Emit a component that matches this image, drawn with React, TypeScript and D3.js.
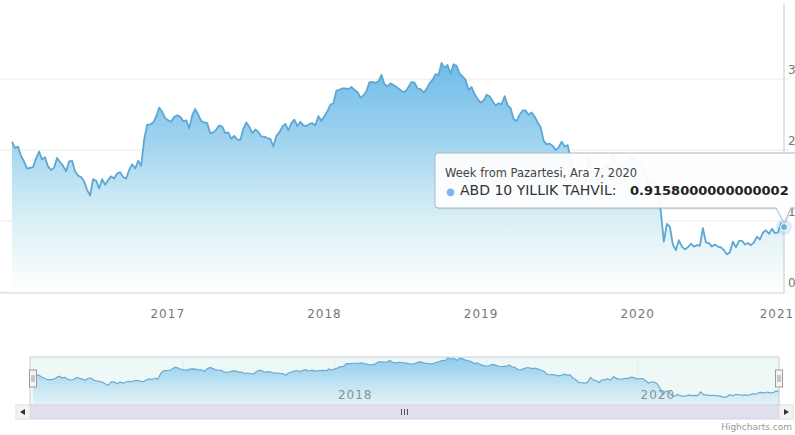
import React from "react"
import * as d3 from "d3"

// weekly closes, ABD 10 yıllık tahvil faizi (week starting Monday)
const FIRST_WEEK = "2016-01-04"

const y2016 = [
    2.12, 2.03, 2.05, 1.92, 1.84, 1.74, 1.75, 1.76, 1.88, 1.98, 1.87, 1.9, 1.77,
    1.72, 1.75, 1.89, 1.83, 1.78, 1.7, 1.84, 1.85, 1.7, 1.64, 1.62, 1.56, 1.44,
    1.36, 1.59, 1.57, 1.46, 1.59, 1.51, 1.58, 1.63, 1.6, 1.67, 1.69, 1.62, 1.6,
    1.72, 1.8, 1.74, 1.85, 1.78, 2.15, 2.36, 2.36, 2.39, 2.47, 2.6, 2.54, 2.45,
]
const y2017 = [
    2.42, 2.4, 2.47, 2.49, 2.47, 2.41, 2.42, 2.31, 2.49, 2.58, 2.5, 2.41, 2.39,
    2.38, 2.24, 2.25, 2.29, 2.35, 2.33, 2.24, 2.25, 2.16, 2.2, 2.15, 2.14, 2.3,
    2.39, 2.33, 2.24, 2.29, 2.26, 2.19, 2.19, 2.17, 2.16, 2.05, 2.2, 2.25, 2.33,
    2.37, 2.28, 2.38, 2.43, 2.34, 2.4, 2.35, 2.34, 2.37, 2.38, 2.35, 2.48, 2.41,
]
const y2018 = [
    2.48, 2.55, 2.64, 2.66, 2.84, 2.85, 2.87, 2.87, 2.86, 2.89, 2.85, 2.82, 2.74,
    2.77, 2.83, 2.96, 2.96, 2.95, 2.97, 3.06, 2.93, 2.9, 2.94, 2.92, 2.89, 2.86,
    2.82, 2.83, 2.89, 2.96, 2.95, 2.87, 2.86, 2.81, 2.86, 2.94, 2.99, 3.07, 3.06,
    3.23, 3.16, 3.2, 3.08, 3.21, 3.19, 3.08, 3.04, 2.99, 2.85, 2.89, 2.79, 2.72,
    2.67,
]
const y2019 = [
    2.7, 2.78, 2.76, 2.69, 2.63, 2.66, 2.65, 2.76, 2.63, 2.59, 2.44, 2.41, 2.5,
    2.56, 2.56, 2.5, 2.53, 2.47, 2.39, 2.32, 2.13, 2.08, 2.09, 2.06, 2.0, 2.04,
    2.12, 2.05, 2.07, 1.86, 1.74, 1.55, 1.53, 1.5, 1.55, 1.9, 1.72, 1.68, 1.53,
    1.73, 1.75, 1.8, 1.71, 1.94, 1.83, 1.77, 1.78, 1.84, 1.82, 1.92, 1.88, 1.8,
]
const y2020 = [
    1.82, 1.82, 1.68, 1.51, 1.58, 1.58, 1.47, 1.13, 0.71, 0.96, 0.92, 0.67, 0.59,
    0.73, 0.64, 0.6, 0.63, 0.68, 0.64, 0.66, 0.65, 0.9, 0.7, 0.69, 0.64, 0.67,
    0.64, 0.63, 0.59, 0.53, 0.56, 0.71, 0.63, 0.72, 0.72, 0.67, 0.69, 0.66, 0.7,
    0.78, 0.74, 0.84, 0.87, 0.82, 0.89, 0.83, 0.84, 0.97, 0.9158000000000002,
]

const yTicks = [0, 1, 2, 3]
const xTickYears = [2017, 2018, 2019, 2020, 2021]
const navTickYears = [2018, 2020]

const SERIES_NAME = "ABD 10 YILLIK TAHVİL"
const TOOLTIP_HEADER = "Week from Pazartesi, Ara 7, 2020"

const W = 795
const H = 435
const PLOT = { left: 12, right: 784, top: 4, bottom: 292 }
const NAV = { left: 30, right: 779, top: 357, bottom: 405 }
const FONT = "'DejaVu Sans', Verdana, sans-serif"

interface Pt {
    date: Date
    value: number
}

const start = new Date(FIRST_WEEK + "T00:00:00")
const points: Pt[] = [...y2016, ...y2017, ...y2018, ...y2019, ...y2020].map(
    (value, i) => ({ date: d3.timeWeek.offset(start, i), value })
)
const last = points[points.length - 1]

const App: React.FC = () => {
    const x = d3
        .scaleTime()
        .domain([points[0].date, last.date])
        .range([PLOT.left, PLOT.right])
    const y = d3.scaleLinear().domain([0, 4.06]).range([PLOT.bottom, PLOT.top])

    const nx = d3
        .scaleTime()
        .domain([points[0].date, last.date])
        .range([NAV.left + 3, NAV.right])
    const ny = d3.scaleLinear().domain([0, 3.3]).range([NAV.bottom, NAV.top])

    const area = d3
        .area<Pt>()
        .x(d => x(d.date))
        .y0(PLOT.bottom)
        .y1(d => y(d.value))
    const line = d3
        .line<Pt>()
        .x(d => x(d.date))
        .y(d => y(d.value))

    const navArea = d3
        .area<Pt>()
        .x(d => nx(d.date))
        .y0(NAV.bottom)
        .y1(d => ny(d.value))
    const navLine = d3
        .line<Pt>()
        .x(d => nx(d.date))
        .y(d => ny(d.value))

    const px = x(last.date)
    const py = y(last.value)

    // tooltip box, callout pointing at the hovered week
    const tt = { left: 435, top: 153, right: 815, bottom: 208 }
    const ttPath = [
        `M ${tt.left + 3} ${tt.top}`,
        `L ${tt.right} ${tt.top}`,
        `L ${tt.right} ${tt.bottom}`,
        `L ${px + 7} ${tt.bottom}`,
        `L ${px} ${py - 4}`,
        `L ${px - 8} ${tt.bottom}`,
        `L ${tt.left + 3} ${tt.bottom}`,
        `Q ${tt.left} ${tt.bottom} ${tt.left} ${tt.bottom - 3}`,
        `L ${tt.left} ${tt.top + 3}`,
        `Q ${tt.left} ${tt.top} ${tt.left + 3} ${tt.top}`,
        "Z",
    ].join(" ")

    const sbTop = 405
    const sbH = 14
    const midThumb = (NAV.left + NAV.right) / 2

    return (
        <svg
            width={W}
            height={H}
            style={{ position: "absolute", left: 0, top: 0, background: "#fff" }}
            fontFamily={FONT}
        >
            <defs>
                <linearGradient
                    id="mainFill"
                    gradientUnits="userSpaceOnUse"
                    x1="0"
                    y1={y(3.3)}
                    x2="0"
                    y2={PLOT.bottom}
                >
                    <stop offset="0" stopColor="#6cbbe8" />
                    <stop offset="0.35" stopColor="#9fd3ef" />
                    <stop offset="0.65" stopColor="#d3edf5" />
                    <stop offset="0.82" stopColor="#eaf6f8" />
                    <stop offset="1" stopColor="#ffffff" />
                </linearGradient>
                <linearGradient
                    id="navFill"
                    gradientUnits="userSpaceOnUse"
                    x1="0"
                    y1={NAV.top}
                    x2="0"
                    y2={NAV.bottom}
                >
                    <stop offset="0" stopColor="#8ccbee" />
                    <stop offset="0.6" stopColor="#c4e5f3" />
                    <stop offset="1" stopColor="#e4f2f6" />
                </linearGradient>
            </defs>

            {/* grid */}
            {yTicks.map(t => (
                <line
                    key={t}
                    x1={PLOT.left - 12}
                    x2={PLOT.right + 4}
                    y1={y(t)}
                    y2={y(t)}
                    stroke="#ececec"
                    strokeWidth={1}
                />
            ))}

            {/* series */}
            <path d={area(points)!} fill="url(#mainFill)" />
            <path
                d={line(points)!}
                fill="none"
                stroke="#5ea6d4"
                strokeWidth={1.8}
                strokeLinejoin="round"
            />

            {/* x axis */}
            <line
                x1={PLOT.left - 12}
                x2={PLOT.right}
                y1={PLOT.bottom + 1}
                y2={PLOT.bottom + 1}
                stroke="#d3d9e6"
            />
            {xTickYears.map(yr => {
                const tx = x(new Date(yr, 0, 1))
                return (
                    <text
                        key={yr}
                        x={Math.min(tx, W - 18)}
                        y={318}
                        textAnchor="middle"
                        fontSize={12}
                        letterSpacing={1}
                        fill="#777"
                    >
                        {yr}
                    </text>
                )
            })}

            {/* y axis (right) */}
            {yTicks.map(t => (
                <text
                    key={t}
                    x={788}
                    y={y(t) - 5}
                    fontSize={12}
                    fill="#777"
                >
                    {t}
                </text>
            ))}

            {/* crosshair + hovered point */}
            <line
                x1={px}
                x2={px}
                y1={PLOT.top}
                y2={PLOT.bottom}
                stroke="#c8c8c8"
                strokeWidth={1}
            />
            <circle cx={px} cy={py} r={8} fill="#7cb5ec" opacity={0.25} />
            <circle cx={px} cy={py} r={3.5} fill="#6aaedc" stroke="#fff" strokeWidth={1} />

            {/* tooltip */}
            <path d={ttPath} fill="rgba(0,0,0,0.08)" transform="translate(1.5,1.5)" />
            <path d={ttPath} fill="rgba(255,255,255,0.94)" stroke="#a7b7c6" strokeWidth={1} />
            <text x={445} y={177} fontSize={11.5} fill="#444">
                {TOOLTIP_HEADER}
            </text>
            <text x={446} y={195} fontSize={10} fill="#7cb5ec">
                ●
            </text>
            <text x={460} y={195} fontSize={14} fill="#333">
                {SERIES_NAME}:
            </text>
            <text x={630} y={195} fontSize={13} fontWeight="bold" fill="#222">
                {String(last.value)}
            </text>

            {/* navigator */}
            <rect
                x={NAV.left}
                y={NAV.top}
                width={NAV.right - NAV.left}
                height={NAV.bottom - NAV.top}
                fill="#eef8f7"
            />
            {d3.range(2017, 2021).map(yr => (
                <line
                    key={yr}
                    x1={nx(new Date(yr, 0, 1))}
                    x2={nx(new Date(yr, 0, 1))}
                    y1={NAV.top}
                    y2={NAV.bottom}
                    stroke="#e4ecef"
                />
            ))}
            <path d={navArea(points)!} fill="url(#navFill)" />
            <path d={navLine(points)!} fill="none" stroke="#6fa9cf" strokeWidth={1.2} />
            {navTickYears.map(yr => (
                <text
                    key={yr}
                    x={nx(new Date(yr, 0, 1)) + 3}
                    y={399}
                    fontSize={12}
                    letterSpacing={1}
                    fill="#8a8f99"
                >
                    {yr}
                </text>
            ))}
            <path
                d={`M ${NAV.left} ${NAV.bottom} L ${NAV.left} ${NAV.top} L ${NAV.right} ${NAV.top} L ${NAV.right} ${NAV.bottom}`}
                fill="none"
                stroke="#c9ccd3"
            />
            {[NAV.left + 3, NAV.right].map((hx, i) => (
                <g key={i} transform={`translate(${hx},${370})`}>
                    <rect x={-3.5} y={0} width={7} height={17} fill="#f4f4f4" stroke="#9a9a9a" />
                    <line x1={-1} x2={-1} y1={5} y2={12} stroke="#9a9a9a" />
                    <line x1={1} x2={1} y1={5} y2={12} stroke="#9a9a9a" />
                </g>
            ))}

            {/* scrollbar */}
            <rect x={NAV.left - sbH} y={sbTop} width={NAV.right - NAV.left + sbH * 2} height={sbH} fill="#f2f2f2" />
            <rect
                x={NAV.left}
                y={sbTop}
                width={NAV.right - NAV.left}
                height={sbH}
                fill="#dfdfee"
                stroke="#d3d3e3"
            />
            {[-3, 0, 3].map(o => (
                <line
                    key={o}
                    x1={midThumb + o}
                    x2={midThumb + o}
                    y1={sbTop + 4}
                    y2={sbTop + sbH - 4}
                    stroke="#555"
                />
            ))}
            <rect x={NAV.left - sbH} y={sbTop} width={sbH} height={sbH} fill="#f4f4f4" stroke="#dedede" />
            <rect x={NAV.right} y={sbTop} width={sbH} height={sbH} fill="#f4f4f4" stroke="#dedede" />
            <path
                d={`M ${NAV.left - 5} ${sbTop + 4} L ${NAV.left - 5} ${sbTop + 10} L ${NAV.left - 10} ${sbTop + 7} Z`}
                fill="#333"
            />
            <path
                d={`M ${NAV.right + 5} ${sbTop + 4} L ${NAV.right + 5} ${sbTop + 10} L ${NAV.right + 10} ${sbTop + 7} Z`}
                fill="#333"
            />

            {/* credits */}
            <text x={792} y={430} textAnchor="end" fontSize={9} fill="#999">
                Highcharts.com
            </text>
        </svg>
    )
}

export default App
